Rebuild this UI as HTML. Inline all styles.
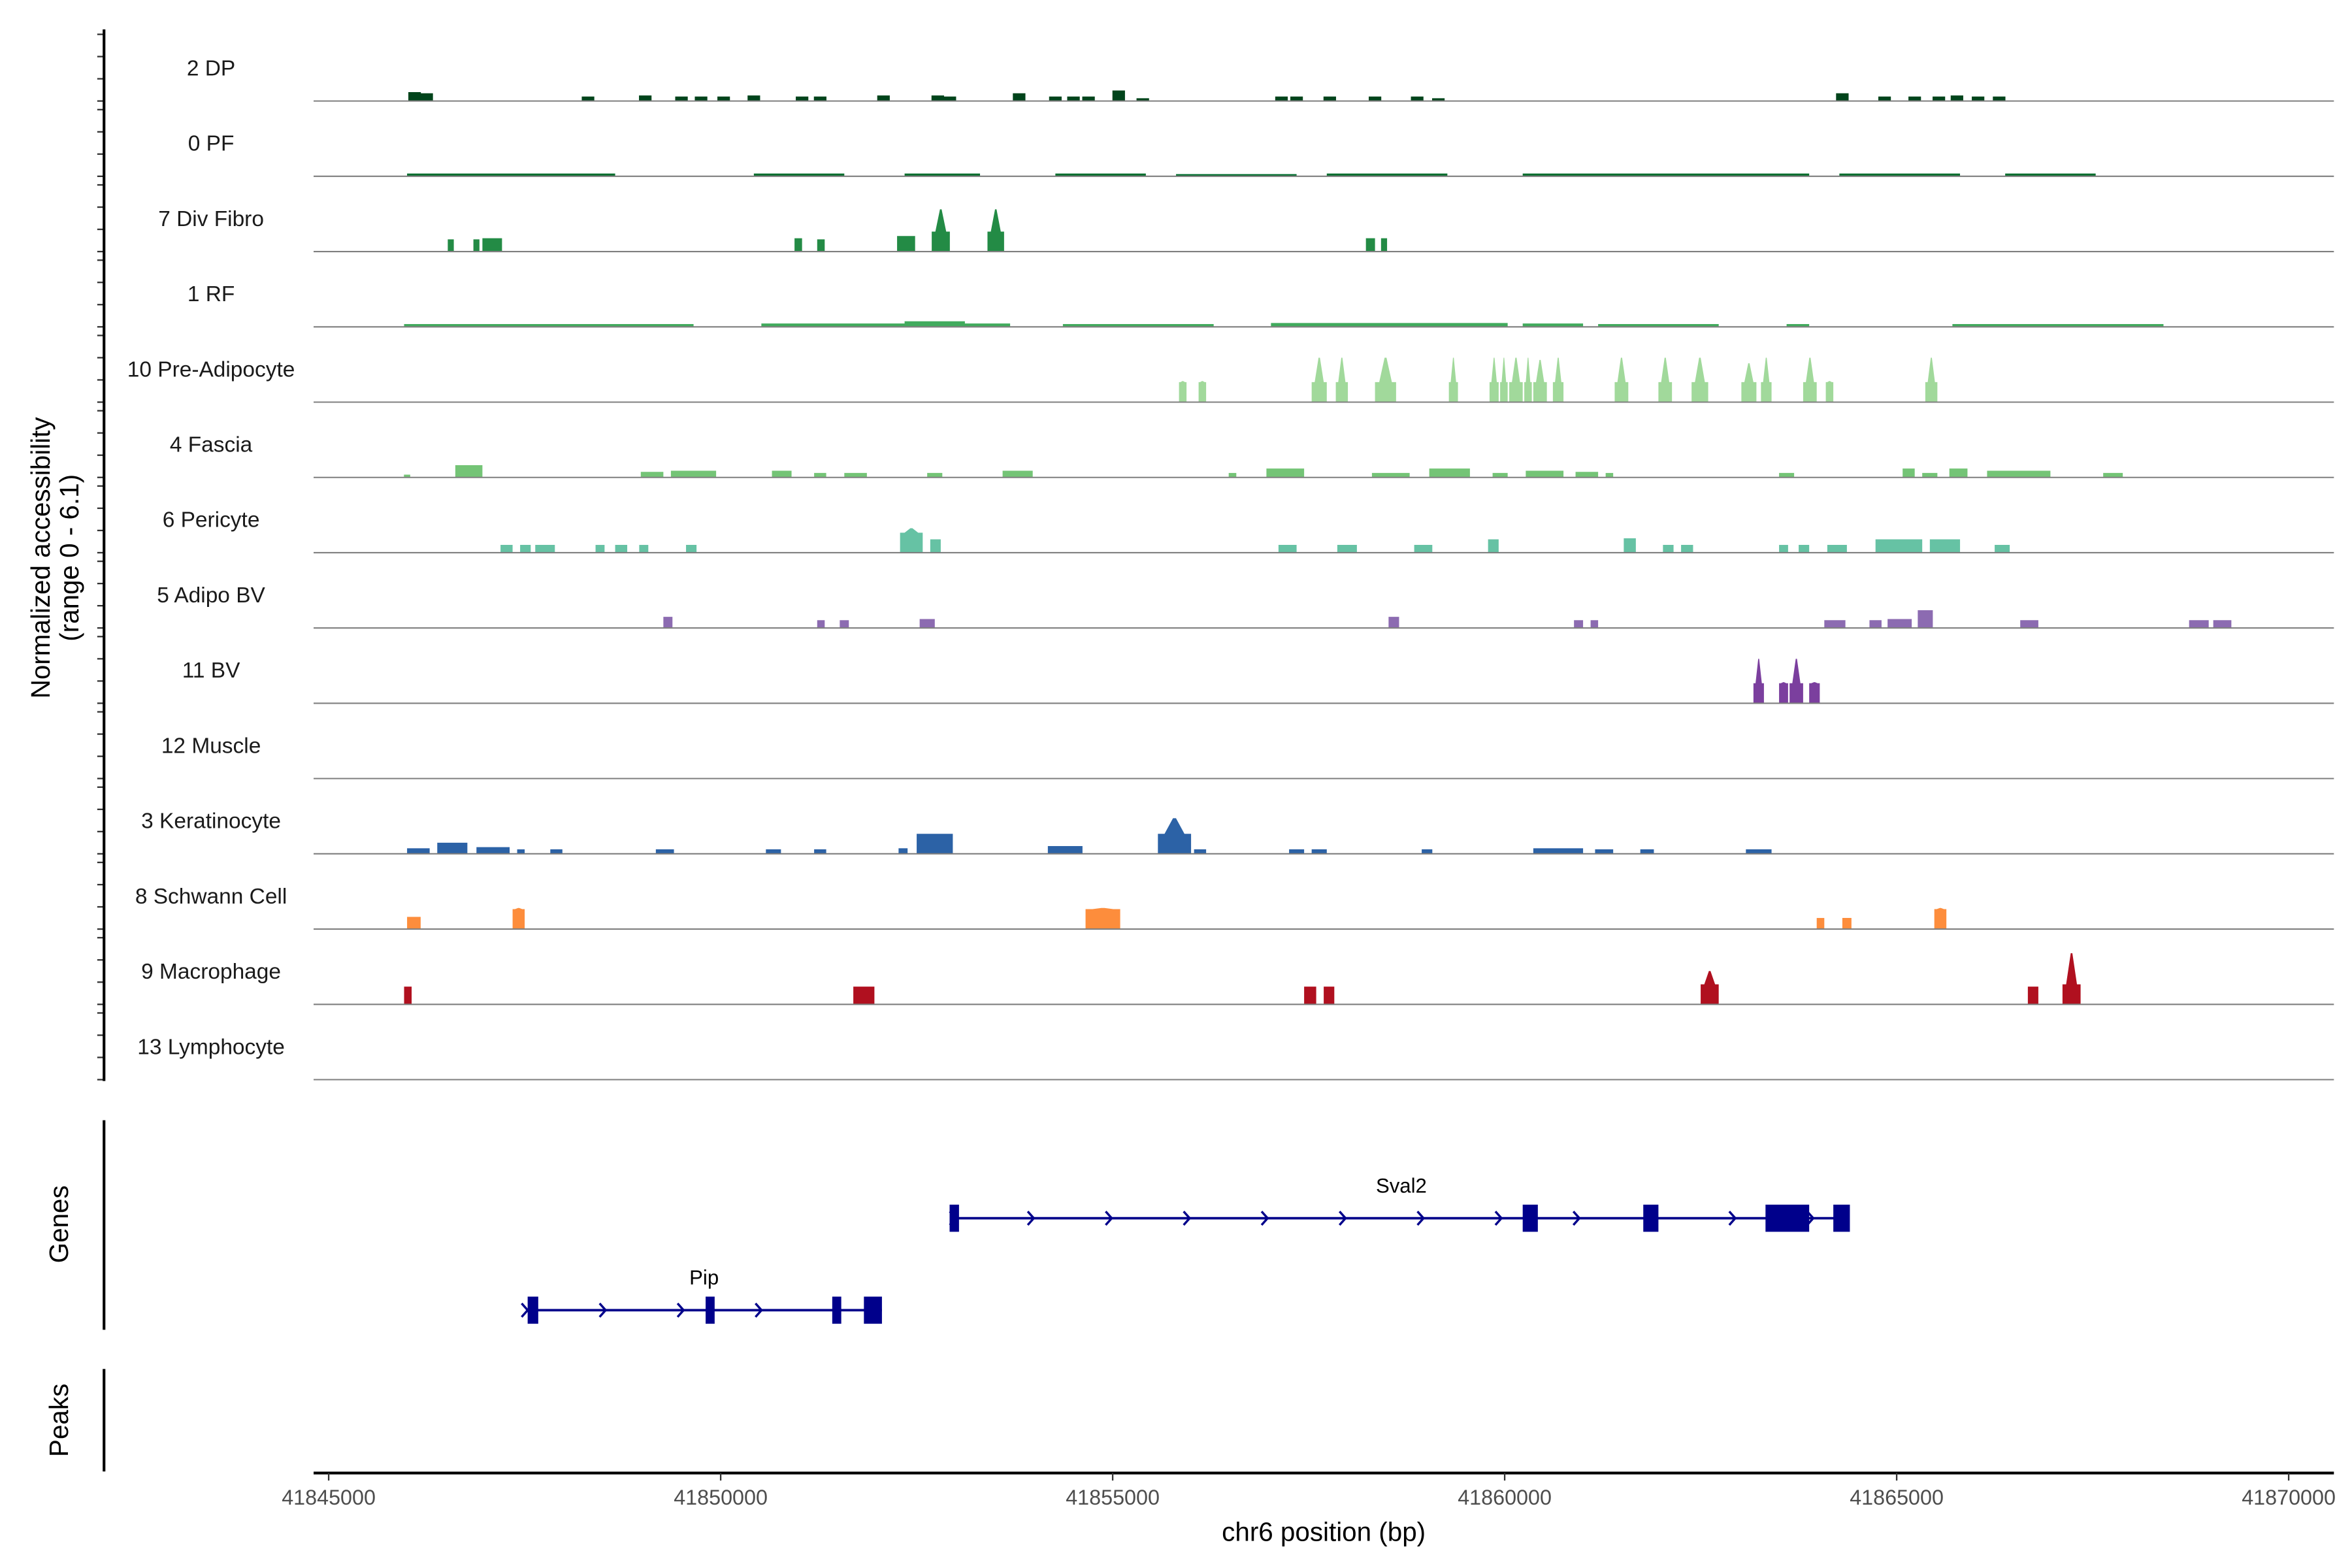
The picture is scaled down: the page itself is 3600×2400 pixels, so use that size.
<!DOCTYPE html>
<html><head><meta charset="utf-8"><style>
html,body{margin:0;padding:0;background:#fff}
svg{display:block}
text{font-family:"Liberation Sans",Arial,sans-serif}
</style></head><body>
<svg id="chart" width="3600" height="2400" viewBox="0 0 1560 1040" xmlns="http://www.w3.org/2000/svg">
<rect x="0" y="0" width="1560" height="1040" fill="#fff"/>
<g id="tracks"></g>
<g id="genes"></g>
<g id="axes"></g>
</svg>
<script>
const regionStart = 41845000;
const regionEnd = 41870000;
const xTickValues = [41845000, 41850000, 41855000, 41860000, 41865000, 41870000];
const trackNames = ["2 DP","0 PF","7 Div Fibro","1 RF","10 Pre-Adipocyte","4 Fascia","6 Pericyte","5 Adipo BV","11 BV","12 Muscle","3 Keratinocyte","8 Schwann Cell","9 Macrophage","13 Lymphocyte"];
const trackColors = ["#00441b","#006d2c","#238b45","#41ab5d","#a1d99b","#74c476","#66c2a4","#8c6bb1","#7b3f9e","#888888","#2c62a6","#fd8d3c","#b0101f","#888888"];
const yTickValues = [0,2,4,6];

const dpStarts = [41846016,41846170,41848228,41848958,41849420,41849670,41849958,41850343,41850958,41851189,41851997,41852689,41852843,41853727,41854189,41854420,41854612,41854997,41855304,41857073,41857266,41857689,41858266,41858804,41859074,41864227,41864766,41865150,41865458,41865689,41865958,41866227];
const dpEnds = [41846176,41846330,41848388,41849118,41849580,41849830,41850118,41850503,41851118,41851349,41852157,41852849,41853003,41853887,41854349,41854580,41854772,41855157,41855464,41857233,41857426,41857849,41858426,41858964,41859234,41864387,41864926,41865310,41865618,41865849,41866118,41866387];
const dpValues = [0.8,0.7,0.4,0.5,0.4,0.4,0.4,0.5,0.4,0.4,0.5,0.5,0.4,0.7,0.4,0.4,0.4,0.95,0.25,0.4,0.4,0.4,0.4,0.4,0.25,0.7,0.4,0.4,0.4,0.5,0.4,0.4];

const pfStarts = [41846000,41850423,41852346,41854269,41855808,41857731,41860230,41864269,41866384];
const pfEnds = [41848654,41851577,41853308,41855423,41857346,41859269,41863884,41865808,41867538];
const pfValues = [0.25,0.25,0.25,0.25,0.2,0.25,0.25,0.25,0.25];

const divStarts = [41846519,41846846,41846961,41850942,41851231,41852250,41852692,41853403,41858230,41858423];
const divEnds = [41846596,41846923,41847211,41851038,41851327,41852480,41852923,41853615,41858346,41858500];
const divValues = [1.1,1.1,1.2,1.2,1.1,1.4,3.8,3.8,1.2,1.2];

const rfStarts = [41845962,41850519,41852346,41854365,41857019,41860230,41861192,41863596,41865711];
const rfEnds = [41849654,41853692,41853115,41856288,41860038,41861000,41862730,41863884,41868403];
const rfValues = [0.25,0.3,0.5,0.25,0.35,0.3,0.25,0.25,0.25];

const preStarts = [41855846,41856096,41857538,41857846,41858346,41859288,41859807,41859942,41860058,41860250,41860365,41860615,41861403,41861961,41862384,41863019,41863269,41863807,41864096,41865365];
const preEnds = [41855942,41856192,41857731,41858000,41858615,41859404,41859923,41860038,41860230,41860346,41860538,41860750,41861577,41862134,41862596,41863211,41863404,41863980,41864192,41865519];
const preValues = [1.9,1.9,4.0,4.0,4.0,4.0,4.0,4.0,4.0,4.0,3.8,4.0,4.0,4.0,4.0,3.5,4.0,4.0,1.9,4.0];

const fasStarts = [41845960,41846615,41848981,41849365,41850654,41851192,41851577,41852634,41853596,41856480,41856961,41858307,41859038,41859846,41860269,41860904,41861288,41863500,41865076,41865326,41865672,41866153,41867634];
const fasEnds = [41846040,41846961,41849269,41849942,41850904,41851346,41851865,41852827,41853980,41856577,41857442,41858788,41859557,41860038,41860750,41861192,41861384,41863692,41865230,41865519,41865903,41866961,41867884];
const fasValues = [0.25,1.1,0.5,0.6,0.6,0.4,0.4,0.4,0.6,0.4,0.8,0.4,0.8,0.4,0.6,0.5,0.4,0.4,0.8,0.4,0.8,0.6,0.4];

const periStarts = [41847192,41847442,41847635,41848404,41848654,41848961,41849558,41852288,41852673,41857115,41857865,41858846,41859788,41861519,41862019,41862250,41863500,41863750,41864115,41864730,41865423,41866250];
const periEnds = [41847346,41847577,41847885,41848519,41848808,41849077,41849692,41852577,41852807,41857346,41858115,41859077,41859923,41861673,41862154,41862403,41863615,41863884,41864365,41865326,41865808,41866442];
const periValues = [0.7,0.7,0.7,0.7,0.7,0.7,0.7,2.2,1.2,0.7,0.7,0.7,1.2,1.3,0.7,0.7,0.7,0.7,0.7,1.2,1.2,0.7];

const abvStarts = [41849269,41851231,41851519,41852538,41858519,41860884,41861096,41864077,41864653,41864884,41865269,41866576,41868730,41869038];
const abvEnds = [41849385,41851327,41851635,41852731,41858653,41861000,41861192,41864346,41864807,41865192,41865461,41866807,41868980,41869269];
const abvValues = [1.0,0.7,0.7,0.8,1.0,0.7,0.7,0.7,0.7,0.8,1.6,0.7,0.7,0.7];

const bvStarts = [41863173,41863500,41863634,41863884];
const bvEnds = [41863307,41863615,41863807,41864019];
const bvValues = [4.0,1.9,4.0,1.9];

const muscleStarts = [];
const muscleEnds = [];
const muscleValues = [];

const kerStarts = [41846000,41846385,41846885,41847404,41847827,41849173,41850577,41851192,41852269,41852500,41854173,41855577,41856038,41857250,41857538,41858942,41860365,41861153,41861730,41863077];
const kerEnds = [41846288,41846769,41847308,41847500,41847981,41849404,41850769,41851346,41852384,41852961,41854615,41856000,41856192,41857442,41857731,41859077,41861000,41861384,41861903,41863404];
const kerValues = [0.5,1.0,0.6,0.4,0.4,0.4,0.4,0.4,0.5,1.8,0.7,3.2,0.4,0.4,0.4,0.4,0.5,0.4,0.4,0.4];

const schStarts = [41846000,41847346,41854654,41863980,41864307,41865480];
const schEnds = [41846173,41847500,41855096,41864077,41864423,41865634];
const schValues = [1.1,1.9,1.9,1.0,1.0,1.9];

const macStarts = [41845962,41851692,41857442,41857692,41862500,41866673,41867115];
const macEnds = [41846058,41851961,41857596,41857827,41862730,41866807,41867346];
const macValues = [1.6,1.6,1.6,1.6,3.0,1.6,4.6];

const lymStarts = [];
const lymEnds = [];
const lymValues = [];

const trackStarts = [dpStarts,pfStarts,divStarts,rfStarts,preStarts,fasStarts,periStarts,abvStarts,bvStarts,muscleStarts,kerStarts,schStarts,macStarts,lymStarts];
const trackEnds = [dpEnds,pfEnds,divEnds,rfEnds,preEnds,fasEnds,periEnds,abvEnds,bvEnds,muscleEnds,kerEnds,schEnds,macEnds,lymEnds];
const trackValues = [dpValues,pfValues,divValues,rfValues,preValues,fasValues,periValues,abvValues,bvValues,muscleValues,kerValues,schValues,macValues,lymValues];
const flatTracks = [1,3];

const geneNames = ["Sval2","Pip"];
const geneStarts = [41852980,41847519];
const geneEnds = [41864384,41852057];
const sval2ExonStarts = [41852920,41860230,41861768,41863327,41864192];
const sval2ExonEnds = [41853040,41860423,41861961,41863884,41864403];
const pipExonStarts = [41847538,41849808,41851423,41851827];
const pipExonEnds = [41847673,41849923,41851538,41852057];
const geneExonStarts = [sval2ExonStarts, pipExonStarts];
const geneExonEnds = [sval2ExonEnds, pipExonEnds];

const NS = "http://www.w3.org/2000/svg";
const plotL = 208, plotR = 1548;
function xScale(bp){ return 218 + (bp - regionStart) * (1300 / (regionEnd - regionStart)); }
const trackStep = 49.93, unitPx = 7.37;
function baseY(i){ return 67 + i * trackStep; }
function yScale(i, v){ return baseY(i) - v * unitPx; }
function mk(tag, attrs, parent){ const e = document.createElementNS(NS, tag); for (const k in attrs) e.setAttribute(k, attrs[k]); parent.appendChild(e); return e; }

const gT = document.getElementById('tracks');
const gA = document.getElementById('axes');
const gG = document.getElementById('genes');

for (let i = 0; i < trackNames.length; i++) {
  const g = mk('g', {}, gT);
  
  
  const lbl = mk('text', {x: 140, y: baseY(i) - 17, 'text-anchor': 'middle', 'font-size': 14.5, fill: '#1a1a1a'}, g);
  lbl.textContent = trackNames[i];
  
  
  const S = trackStarts[i], E = trackEnds[i], V = trackValues[i];
  for (let j = 0; j < S.length; j++) {
    const x0 = xScale(S[j]), x1 = xScale(E[j]), b = baseY(i);
    const top = yScale(i, V[j]);
    let pts;
    if (flatTracks.indexOf(i) >= 0) {
      pts = [[x0,b],[x0,top],[x1,top],[x1,b]];
    } else {
      const sh = yScale(i, Math.min(V[j], 1.8));
      const c = (x0 + x1) / 2, w = Math.max(1, (x1 - x0) * 0.3);
      pts = [[x0,b],[x0,sh],[c-w,sh],[c-w*0.15,top],[c+w*0.15,top],[c+w,sh],[x1,sh],[x1,b]];
    }
    const p = mk('polygon', {points: pts.map(function(q){return q[0].toFixed(2)+','+q[1].toFixed(2);}).join(' '), fill: trackColors[i]}, g);
    
    
  }
  const bl = mk('line', {x1: plotL, x2: plotR, y1: baseY(i), y2: baseY(i), stroke: '#7f7f7f', 'stroke-width': 0.9}, g);
  
  
  for (let k = 0; k < yTickValues.length; k++) {
    const ty = yScale(i, yTickValues[k]);
    const t = mk('line', {x1: 64.5, x2: 69, y1: ty, y2: ty, stroke: '#333', 'stroke-width': 1}, gA);
    
    
  }
}
const yAxis = mk('line', {x1: 69, x2: 69, y1: 19.5, y2: 717, stroke: '#000', 'stroke-width': 1.8}, gA);


const yt = mk('text', {transform: 'translate(35,370) rotate(-90)', 'text-anchor': 'middle', 'font-size': 17.5, fill: '#000'}, gA);


const ts1 = mk('tspan', {x: 0, dy: -2}, yt); ts1.textContent = 'Normalized accessibility';
const ts2 = mk('tspan', {x: 0, dy: 19}, yt); ts2.textContent = '(range 0 - 6.1)';

const gAx = mk('line', {x1: 69, x2: 69, y1: 743, y2: 882, stroke: '#000', 'stroke-width': 1.8}, gA);


const gTt = mk('text', {transform: 'translate(45,812) rotate(-90)', 'text-anchor': 'middle', 'font-size': 17.5}, gA);
gTt.textContent = 'Genes';


const pAx = mk('line', {x1: 69, x2: 69, y1: 908, y2: 976, stroke: '#000', 'stroke-width': 1.8}, gA);


const pTt = mk('text', {transform: 'translate(45,942) rotate(-90)', 'text-anchor': 'middle', 'font-size': 17.5}, gA);
pTt.textContent = 'Peaks';



const xAx = mk('line', {x1: plotL, x2: plotR, y1: 977, y2: 977, stroke: '#000', 'stroke-width': 1.8}, gA);


for (let k = 0; k < xTickValues.length; k++) {
  const x = xScale(xTickValues[k]);
  const t = mk('line', {x1: x, x2: x, y1: 977, y2: 982, stroke: '#333', 'stroke-width': 1}, gA);
  
  
  const l = mk('text', {x: x, y: 998, 'text-anchor': 'middle', 'font-size': 14, fill: '#4d4d4d'}, gA);
  l.textContent = String(xTickValues[k]);
  
  
}
const xt = mk('text', {x: 878, y: 1022, 'text-anchor': 'middle', 'font-size': 17.5}, gA);
xt.textContent = 'chr6 position (bp)';



const geneY = [808, 869];
const col = '#00008b';
for (let gi = 0; gi < geneNames.length; gi++) {
  const g = mk('g', {}, gG);
  
  
  const y = geneY[gi], x0 = xScale(geneStarts[gi]), x1 = xScale(geneEnds[gi]);
  mk('line', {x1: x0, x2: x1, y1: y, y2: y, stroke: col, 'stroke-width': 1.6}, g);
  for (let ax = x0; ax < x1 - 6; ax += 51.7) {
    mk('polyline', {points: (ax-3)+','+(y-4.5)+' '+(ax+1)+','+y+' '+(ax-3)+','+(y+4.5), fill: 'none', stroke: col, 'stroke-width': 1.5}, g);
  }
  const es = geneExonStarts[gi], ee = geneExonEnds[gi];
  for (let k = 0; k < es.length; k++) {
    const ex0 = xScale(es[k]), ex1 = xScale(ee[k]);
    const e = mk('rect', {x: ex0, y: y - 9, width: Math.max(2.5, ex1 - ex0), height: 18, fill: col}, g);
    
    
  }
  const lb = mk('text', {x: (x0 + x1) / 2, y: y - 17, 'text-anchor': 'middle', 'font-size': 13.5, fill: '#000'}, g);
  lb.textContent = geneNames[gi];
  
  
}
</script>
</body></html>
